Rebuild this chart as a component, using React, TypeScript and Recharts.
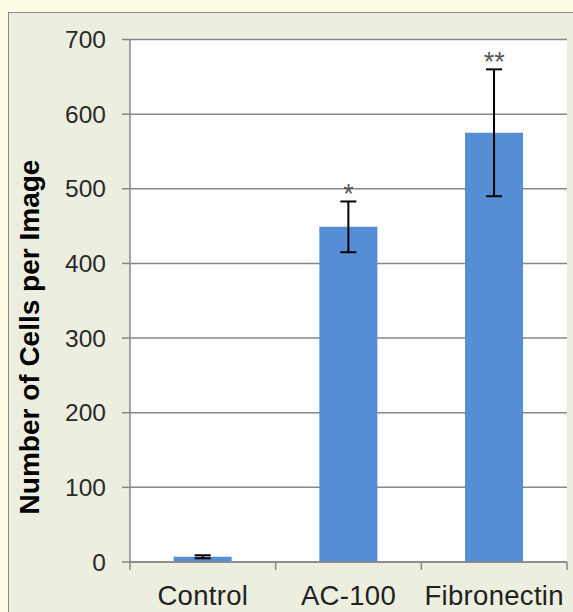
import React, { ReactElement } from "react";
import {
  Bar,
  BarChart,
  CartesianGrid,
  ErrorBar,
  ReferenceDot,
  XAxis,
  YAxis,
} from "recharts";

const categories = ["Control", "AC-100", "Fibronectin"];
const cellCounts = [7, 449, 575];
const errors = [2, 34, 85];
const significance = ["", "*", "**"];
const yTicks = [0, 100, 200, 300, 400, 500, 600, 700];

const data = categories.map((name, i) => ({
  name,
  cells: cellCounts[i],
  err: errors[i],
  sig: significance[i],
}));

const FONT = "'Liberation Sans', Arial, sans-serif";
const GRAY = "#878787";

function CategoryTick(props: any): ReactElement {
  const { x, y, payload, index } = props;
  const half = payload && payload.offset ? payload.offset : 72.7;
  return (
    <g>
      <line x1={x - half} y1={y - 8} x2={x - half} y2={y} stroke={GRAY} strokeWidth={1.5} />
      {index === categories.length - 1 && (
        <line x1={x + half} y1={y - 8} x2={x + half} y2={y} stroke={GRAY} strokeWidth={1.5} />
      )}
      <text
        x={x}
        y={y + 35}
        textAnchor="middle"
        fill="#222"
        fontSize={27.5}
        fontFamily={FONT}
        letterSpacing={0.3}
      >
        {payload.value}
      </text>
    </g>
  );
}

function StarLabel(props: any): ReactElement {
  const { viewBox, value } = props;
  const cx = viewBox.x + (viewBox.width || 0) / 2;
  const cy = viewBox.y;
  return (
    <text
      x={cx}
      y={cy + 2}
      textAnchor="middle"
      fill="#555"
      fontSize={27}
      fontFamily={FONT}
    >
      {value}
    </text>
  );
}

function YTitle(): ReactElement {
  return (
    <text
      x={39}
      y={337}
      transform="rotate(-90 39 337)"
      textAnchor="middle"
      fill="#000"
      fontSize={28}
      fontWeight="bold"
      fontFamily={FONT}
    >
      Number of Cells per Image
    </text>
  );
}

export default function App(): ReactElement {
  return (
    <div
      style={{
        position: "absolute",
        left: 0,
        top: 0,
        width: 573,
        height: 612,
        overflow: "hidden",
        background: "#fefbe6",
      }}
    >
      <div
        style={{
          position: "absolute",
          left: 8,
          top: 12,
          width: 600,
          height: 640,
          background: "#eceedf",
          border: "1.5px solid #8a8a8a",
        }}
      />
      <div style={{ position: "absolute", left: 0, top: 0 }}>
        <BarChart
          width={573}
          height={612}
          data={data}
          margin={{ top: 39.5, right: 6, left: 30, bottom: 0 }}
          barCategoryGap="30%"
        >
          <CartesianGrid vertical={false} stroke={GRAY} strokeWidth={1.5} fill="#ffffff" />
          <XAxis
            dataKey="name"
            height={50}
            axisLine={{ stroke: GRAY, strokeWidth: 1.5 }}
            tickLine={false}
            tick={<CategoryTick />}
            interval={0}
          />
          <YAxis
            width={100}
            domain={[0, 700]}
            ticks={yTicks}
            tickSize={8}
            tickMargin={16}
            axisLine={{ stroke: GRAY, strokeWidth: 1.5 }}
            tickLine={{ stroke: GRAY, strokeWidth: 1.5 }}
            tick={{ fill: "#2a2a2a", fontSize: 24.5, fontFamily: FONT }}
            label={<YTitle />}
          />
          <Bar dataKey="cells" fill="#558ed5" isAnimationActive={false}>
            <ErrorBar dataKey="err" width={8} stroke="#000" strokeWidth={2} />
          </Bar>
          {data
            .filter((d) => d.sig)
            .map((d) => (
              <ReferenceDot
                key={d.name}
                x={d.name}
                y={d.cells + d.err}
                r={0}
                stroke="none"
                fill="none"
                ifOverflow="visible"
                label={<StarLabel value={d.sig} />}
              />
            ))}
        </BarChart>
      </div>
    </div>
  );
}
